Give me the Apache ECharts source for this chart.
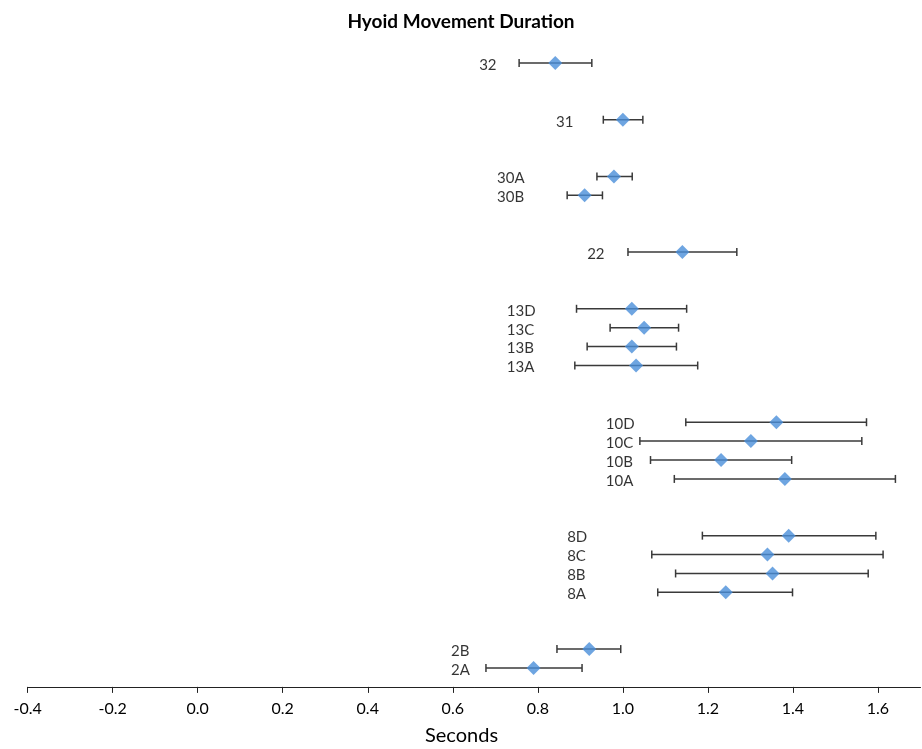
<!DOCTYPE html>
<html>
<head>
<meta charset="utf-8">
<script src="https://cdn.jsdelivr.net/npm/echarts@6/dist/echarts.min.js"></script>
<style>
  html, body { margin: 0; padding: 0; background: #fff; }
  #main { width: 922px; height: 749px; }
</style>
</head>
<body>
<div id="main"></div>
<script>
// subjects, bottom to top
var rows = ['2A', '2B', '8A', '8B', '8C', '8D', '10A', '10B', '10C', '10D',
            '13A', '13B', '13C', '13D', '22', '30B', '30A', '31', '32'];
// vertical slot of each row (gaps between groups)
var rowPos = [0, 1, 4, 5, 6, 7, 10, 11, 12, 13, 16, 17, 18, 19, 22, 25, 26, 29, 32];
var means = [0.790, 0.921, 1.242, 1.352, 1.340, 1.390, 1.381, 1.231, 1.301, 1.361,
             1.031, 1.021, 1.050, 1.021, 1.140, 0.910, 0.979, 1.000, 0.841];
var lows = [0.678, 0.845, 1.082, 1.124, 1.068, 1.187, 1.121, 1.065, 1.040, 1.148,
            0.887, 0.916, 0.970, 0.891, 1.012, 0.869, 0.939, 0.954, 0.756];
var highs = [0.904, 0.995, 1.399, 1.577, 1.612, 1.595, 1.641, 1.397, 1.562, 1.573,
             1.176, 1.126, 1.131, 1.150, 1.268, 0.952, 1.022, 1.047, 0.927];
// where each row's name starts (seconds)
var labelAt = [0.596, 0.596, 0.869, 0.869, 0.869, 0.869, 0.960, 0.960, 0.960, 0.960,
               0.727, 0.727, 0.727, 0.727, 0.916, 0.704, 0.704, 0.843, 0.662];

var font = 'Lato, "Noto Sans", sans-serif';

var chart = echarts.init(document.getElementById('main'));

var barData = [], pointData = [], labelData = [];
for (var i = 0; i < rows.length; i++) {
  barData.push([lows[i], highs[i], rowPos[i]]);
  pointData.push([means[i], rowPos[i]]);
  labelData.push({ name: rows[i], value: [labelAt[i], rowPos[i]] });
}

var option = {
  animation: false,
  backgroundColor: '#fff',
  title: {
    text: 'Hyoid Movement Duration',
    left: 'center',
    top: 7,
    textStyle: { fontFamily: font, fontSize: 19, fontWeight: 'bold', color: '#000' }
  },
  // x axis title
  graphic: [{
    type: 'text',
    left: 464 - 39,
    top: 726,
    style: { text: 'Seconds', font: '20px ' + font, fill: '#000' }
  }],
  grid: {
    left: 27.6, right: 1.5, top: 44.1, bottom: 62.1,
    containLabel: false, outerBoundsMode: 'none'
  },
  xAxis: {
    type: 'value',
    min: -0.4,
    max: 1.7,
    interval: 0.2,
    axisLine: { onZero: false, lineStyle: { color: '#222', width: 1 } },
    axisTick: { show: true, length: 6, lineStyle: { color: '#222' } },
    axisLabel: {
      fontFamily: font, fontSize: 16, color: '#000', margin: 14,
      showMaxLabel: false,
      formatter: function (v) { return v.toFixed(1); }
    },
    splitLine: { show: false }
  },
  yAxis: {
    type: 'value',
    min: -1,
    max: 33,
    show: false
  },
  series: [
    {
      type: 'custom',
      data: barData,
      renderItem: function (params, api) {
        var y = api.value(2);
        var a = api.coord([api.value(0), y]);
        var b = api.coord([api.value(1), y]);
        var h = 4;
        var style = { stroke: '#3a3a3a', lineWidth: 1.5 };
        return {
          type: 'group',
          children: [
            { type: 'line', shape: { x1: a[0], y1: a[1], x2: b[0], y2: b[1] }, style: style },
            { type: 'line', shape: { x1: a[0], y1: a[1] - h, x2: a[0], y2: a[1] + h }, style: style },
            { type: 'line', shape: { x1: b[0], y1: b[1] - h, x2: b[0], y2: b[1] + h }, style: style }
          ]
        };
      },
      z: 2
    },
    {
      type: 'scatter',
      data: pointData,
      symbol: 'diamond',
      symbolSize: [14, 14],
      itemStyle: { color: '#4a8fd9' },
      z: 3
    },
    {
      type: 'scatter',
      data: labelData,
      symbolSize: 0,
      label: {
        show: true,
        position: 'right',
        distance: 0,
        offset: [0, 2],
        formatter: '{b}',
        fontFamily: font,
        fontSize: 15,
        color: '#000'
      },
      z: 4
    }
  ]
};

chart.setOption(option);
</script>
</body>
</html>
